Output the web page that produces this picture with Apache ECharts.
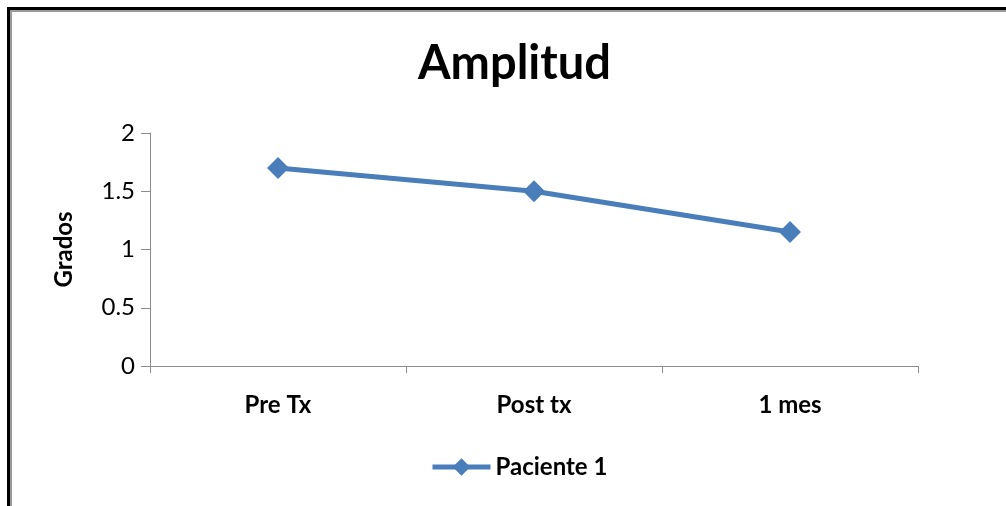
<!DOCTYPE html>
<html>
<head>
<meta charset="utf-8">
<script src="https://cdn.jsdelivr.net/npm/echarts@6/dist/echarts.min.js"></script>
<style>
  html, body { margin: 0; padding: 0; background: #fff; }
  #frame {
    position: absolute; left: 7px; top: 7px; width: 1100px; height: 600px;
    border-left: 3px solid #000; border-top: 3px solid #000; box-sizing: border-box;
  }
  #frame::after {
    content: ""; position: absolute; left: 0; top: 0; right: 0; bottom: 0;
    border-left: 2px solid #9a9a9a; border-top: 2px solid #9a9a9a;
  }
  #chart { position: absolute; left: 0; top: 0; width: 1006px; height: 506px; }
</style>
</head>
<body>
<div id="frame"></div>
<div id="chart"></div>
<script>
// Amplitud en grados por momento de medición
const categories = ['Pre Tx', 'Post tx', '1 mes'];
const paciente1 = [1.7, 1.5, 1.15];
const seriesName = 'Paciente 1';
const yTicks = { min: 0, max: 2, interval: 0.5 };

const fontFamily = 'Lato, "Open Sans", "Noto Sans", sans-serif';
const blue = '#4a7ebb';

const chart = echarts.init(document.getElementById('chart'), null, { renderer: 'canvas' });
chart.setOption({
  backgroundColor: 'transparent',
  animation: false,
  title: {
    text: 'Amplitud',
    left: 418,
    top: 40,
    padding: 0,
    textStyle: { fontFamily, fontSize: 47, fontWeight: 'bold', color: '#000' }
  },
  legend: {
    data: [seriesName],
    left: 430,
    top: 455,
    padding: 0,
    itemWidth: 58,
    itemHeight: 22,
    itemGap: 4,
    lineStyle: { width: 5 },
    textStyle: { fontFamily, fontSize: 24, fontWeight: 'bold', color: '#000' }
  },
  grid: { left: 150, right: 88, top: 133, bottom: 140, containLabel: false },
  xAxis: {
    type: 'category',
    data: categories,
    boundaryGap: true,
    axisLine: { lineStyle: { color: '#8c8c8c', width: 1 } },
    axisTick: { show: true, length: 7, alignWithLabel: false, lineStyle: { color: '#8c8c8c' } },
    axisLabel: { fontFamily, fontSize: 24, fontWeight: 'bold', color: '#000', margin: 27 }
  },
  yAxis: {
    type: 'value',
    min: yTicks.min,
    max: yTicks.max,
    interval: yTicks.interval,
    name: 'Grados',
    nameLocation: 'middle',
    nameGap: 74,
    nameRotate: 90,
    nameTextStyle: { fontFamily, fontSize: 24, fontWeight: 'bold', color: '#000' },
    splitLine: { show: false },
    axisLine: { show: true, lineStyle: { color: '#8c8c8c', width: 1 } },
    axisTick: { show: true, length: 9, lineStyle: { color: '#8c8c8c' } },
    axisLabel: { fontFamily, fontSize: 24, color: '#000', margin: 15 }
  },
  series: [{
    name: seriesName,
    type: 'line',
    data: paciente1,
    symbol: 'diamond',
    symbolSize: 22,
    lineStyle: { color: blue, width: 5 },
    itemStyle: { color: blue }
  }]
});
</script>
</body>
</html>
